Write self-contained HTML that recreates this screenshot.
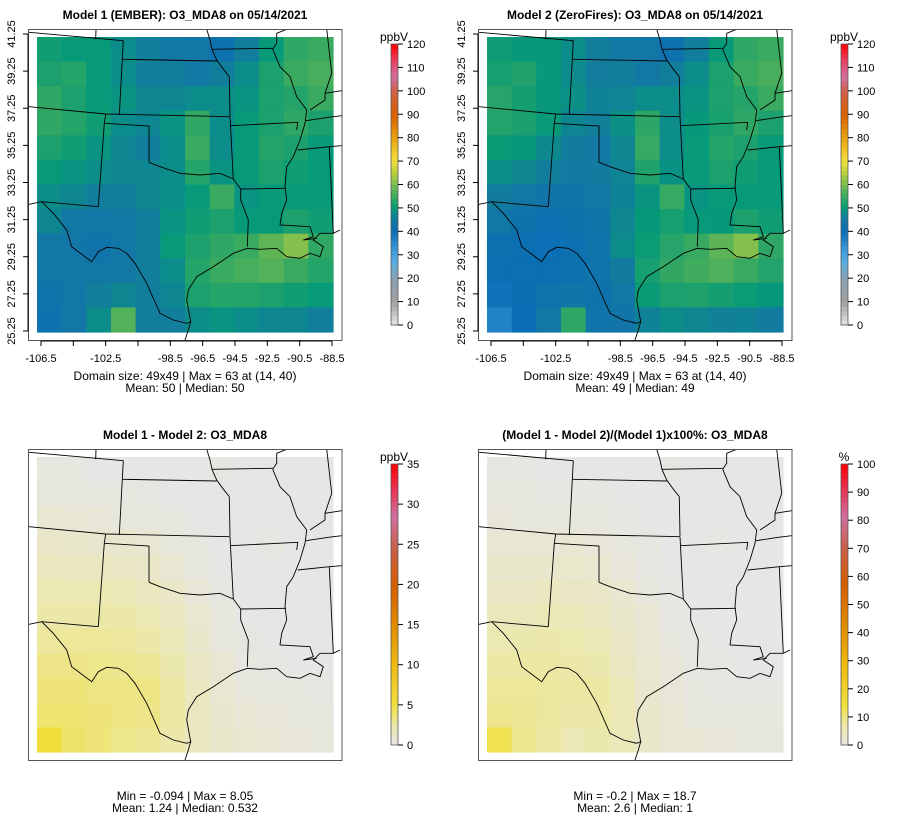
<!DOCTYPE html>
<html><head><meta charset="utf-8"><style>
html,body{margin:0;padding:0;background:#fff;}
svg{display:block;font-family:"Liberation Sans",sans-serif;}
</style></head><body>
<svg id="chart" width="900" height="840" viewBox="0 0 900 840" xmlns="http://www.w3.org/2000/svg"></svg>
<script>
// ===== data (12x12 coarse grid, rows north->south, cols west->east) =====
const model1Values = [
[51,50,50,48,46,45,44,42,46,50,54,55],
[52,53,50,48,46,46,45,46,48,52,55,56],
[54,52,50,49,47,47,48,48,49,52,53,55],
[54,53,51,48,47,49,54,48,50,52,54,52],
[52,51,49,47,46,48,55,48,50,53,52,50],
[50,49,48,47,47,48,53,49,50,52,51,50],
[48,47,46,46,47,48,50,55,49,50,50,50],
[47,45,44,45,46,49,51,52,50,50,52,51],
[45,44,43,44,46,50,52,54,55,58,61,54],
[44,44,44,45,46,48,53,55,56,57,55,53],
[43,44,46,47,46,47,52,53,53,52,51,50],
[42,44,48,57,46,46,48,49,48,47,47,46]];
const diffValues = [
[0.3,0.3,0.1,0,0,0,0,0.2,0,0,0,0],
[0.5,0.4,0.3,0.3,0.2,0.1,0,0,0,0,0,0],
[0.8,0.7,0.6,0.5,0.5,0.3,0.1,0,0,0,0,0],
[1.2,1.1,1,1,0.8,0.5,0.3,0,0.1,0.2,0,0],
[1.6,1.5,1.5,1.4,1.2,0.8,0.4,0.1,0,0,0,0],
[2,2,2,1.9,1.6,1.2,0.6,0.2,0,0,0,0],
[2.4,2.4,2.5,2.4,2,1.5,0.9,0.4,0.1,0,0,0],
[2.8,2.9,2.9,2.8,2.5,1.8,1.1,0.5,0.2,0.1,0,0],
[3.3,3.3,3.2,3.1,3,2.2,1.4,0.8,0.3,0.2,0.1,0.1],
[3.6,3.6,3.4,3.4,3.4,2.6,1.5,0.8,0.5,0.4,0.3,0.2],
[3.9,3.8,3.6,3.4,3.3,2.6,1.6,1,0.7,0.6,0.5,0.4],
[5.5,4,3.6,3.2,3,2.4,1.6,1.1,0.9,0.7,0.6,0.5]];
const model2Values = model1Values.map((r,i)=>r.map((v,j)=>v-diffValues[i][j]));
const pctValues = model1Values.map((r,i)=>r.map((v,j)=>diffValues[i][j]/v*100));
const xTickLabels = ["-106.5","","-102.5","","-98.5","-96.5","-94.5","-92.5","-90.5","-88.5"];
const yTickLabels = ["41.25","39.25","37.25","35.25","33.25","31.25","29.25","27.25","25.25"];
const mainTicks = [0,10,20,30,40,50,60,70,80,90,100,110,120];
const diffTicks = [0,5,10,15,20,25,30,35];
const pctTicks = [0,10,20,30,40,50,60,70,80,90,100];

// ===== colour maps =====
const mainStops=[[0,"#e6e6e6"],[10,"#a0a0a0"],[20,"#8aa0b4"],[27,"#58ace0"],[33,"#3896d8"],[40,"#0a6eb4"],[45,"#1478a4"],[50,"#069a78"],[55,"#3aaa60"],[60,"#78bc50"],[65,"#b8d040"],[70,"#f0e040"],[75,"#f0c424"],[80,"#e8a010"],[90,"#d86000"],[100,"#d06048"],[106,"#d070a0"],[113,"#e84060"],[120,"#ff0000"]];
const diffStops=[[0,"#e6e6e6"],[2.5,"#ece8a8"],[5,"#f0e040"],[10,"#eebb10"],[15,"#e08a00"],[20,"#d45e00"],[25,"#c86050"],[28.5,"#d070a0"],[32,"#e83050"],[35,"#ff0000"]];
const pctStops=diffStops.map(s=>[s[0]*100/35,s[1]]);
function hex(c){return [1,3,5].map(i=>parseInt(c.substr(i,2),16));}
function cmap(stops,v){
  if(v<=stops[0][0])return stops[0][1];
  for(let i=1;i<stops.length;i++){if(v<=stops[i][0]){const a=hex(stops[i-1][1]),b=hex(stops[i][1]);const t=(v-stops[i-1][0])/(stops[i][0]-stops[i-1][0]);return "rgb("+a.map((x,k)=>Math.round(x+(b[k]-x)*t)).join(",")+")";}}
  return stops[stops.length-1][1];
}

// ===== geometry =====
const NS="http://www.w3.org/2000/svg";
const svg=document.getElementById("chart");
function el(tag,attrs,parent,text){const e=document.createElementNS(NS,tag);for(const k in attrs)e.setAttribute(k,attrs[k]);if(text!==undefined)e.textContent=text;(parent||svg).appendChild(e);return e;}
const MAP={x0:37,y0:37,x1:333,y1:332};
const lonX=i=>41+i*(291/9);
const latY=i=>34+i*(297/8);

const borders=[
[[87,97],[370,122]],[[288,87],[287,118]],
[[370,122],[358,345]],[[367,178],[650,183]],
[[620,88],[630,120],[636,148],[650,180],[668,205],[688,230]],
[[636,148],[818,145]],
[[688,230],[690,348]],
[[87,320],[317,342],[690,350]],
[[690,377],[893,367],[890,390]],
[[313,370],[447,378],[447,487]],
[[447,487],[480,500],[540,520],[600,525],[660,520],[700,537]],
[[690,350],[700,537]],
[[722,567],[858,565]],
[[700,537],[722,567],[722,600],[745,660],[742,740]],
[[317,342],[313,370],[295,620]],
[[87,613],[125,605],[295,620]],
[[125,605],[160,640],[200,690],[215,740],[275,785],[295,755],[320,742],[355,745],[380,760],[405,790],[440,850],[480,940],[520,960],[560,970],[572,965],[565,990],[555,1020]],
[[572,965],[560,900],[565,870],[590,830],[640,800],[700,760],[742,745],[780,748],[830,745],[860,770],[900,775],[930,760],[960,770],[970,740],[940,720],[960,700],[1000,700],[1020,690]],
[[818,148],[840,200],[870,230],[890,290],[920,330],[915,370],[900,420],[880,470],[860,500],[855,560],[860,600],[845,640],[840,675],[930,680],[940,710],[910,720],[950,715]],
[[918,362],[985,352],[1025,347]],[[893,450],[988,440],[1025,437]],
[[988,440],[1000,700]],
[[860,88],[830,100],[830,130],[818,148]],
[[980,87],[995,220],[975,280],[1025,272]],
[[930,330],[975,300],[975,280]]
];

function panel(px,py,title,vals,stops,ticks,unit,stats,showAxes,id){
  const g=el("g",{transform:`translate(${px},${py})`,});
  el("text",{x:185,y:19,"text-anchor":"middle","font-size":"12","font-weight":"bold",},g,title);
  const cg=el("g",{},g);
  const nr=vals.length,nc=vals[0].length,cw=(MAP.x1-MAP.x0)/nc,ch=(MAP.y1-MAP.y0)/nr;
  vals.forEach((row,i)=>row.forEach((v,j)=>{
    const r=el("rect",{x:(MAP.x0+j*cw).toFixed(2),y:(MAP.y0+i*ch).toFixed(2),width:(cw+0.6).toFixed(2),height:(ch+0.6).toFixed(2),fill:cmap(stops,v)},cg);
    
    
  }));
  const clip=el("clipPath",{id:"clip"+id},g);el("rect",{x:29,y:29,width:313,height:312},clip);
  const bg=el("g",{"clip-path":`url(#clip${id})`,},g);
  borders.forEach(b=>el("polyline",{points:b.map(p=>(p[0]/3).toFixed(1)+","+(p[1]/3).toFixed(1)).join(" "),fill:"none",stroke:"#000","stroke-width":"0.9"},bg));
  el("rect",{x:28.5,y:29.5,width:313.5,height:311,fill:"none",stroke:"#555","stroke-width":"1",},g);
  if(showAxes){
    const xa=el("g",{},g);
    el("line",{x1:lonX(0),x2:lonX(9),y1:341,y2:341,stroke:"#000"},xa);
    xTickLabels.forEach((t,i)=>{el("line",{x1:lonX(i),x2:lonX(i),y1:341,y2:346,stroke:"#000"},xa);if(t)el("text",{x:lonX(i),y:362,"text-anchor":"middle","font-size":"11"},xa,t);});
    const ya=el("g",{},g);
    el("line",{x1:28,x2:28,y1:latY(0),y2:latY(8),stroke:"#000"},ya);
    yTickLabels.forEach((t,i)=>{const y=latY(i);el("line",{x1:23,x2:28,y1:y,y2:y,stroke:"#000"},ya);el("text",{x:15,y:y,"text-anchor":"middle","font-size":"11",transform:`rotate(-90 15 ${y})`},ya,t);});
  }
  el("text",{x:185,y:380,"text-anchor":"middle","font-size":"12",},g,stats[0]);
  el("text",{x:185,y:392,"text-anchor":"middle","font-size":"12",},g,stats[1]);
  const cb=el("g",{},g);
  const top=44,bot=325,max=ticks[ticks.length-1],n=60;
  for(let k=0;k<n;k++){const v0=max*k/n;const y=bot-(k+1)*(bot-top)/n;el("rect",{x:391,y:y.toFixed(2),width:7,height:((bot-top)/n+0.5).toFixed(2),fill:cmap(stops,v0+max/n/2)},cb);}
  el("rect",{x:391,y:top,width:7,height:bot-top,fill:"none",stroke:"#555","stroke-width":"0.8"},cb);
  ticks.forEach(t=>{const y=bot-(t/max)*(bot-top);el("line",{x1:398,x2:403,y1:y,y2:y,stroke:"#000"},cb);el("text",{x:407,y:y+4,"font-size":"11"},cb,String(t));});
  el("text",{x:394,y:41,"text-anchor":"middle","font-size":"12",},cb,unit);
}
panel(0,0,"Model 1 (EMBER): O3_MDA8 on 05/14/2021",model1Values,mainStops,mainTicks,"ppbV",["Domain size: 49x49 | Max = 63 at (14, 40)","Mean: 50 |  Median: 50"],true,"model1");
panel(450,0,"Model 2 (ZeroFires): O3_MDA8 on 05/14/2021",model2Values,mainStops,mainTicks,"ppbV",["Domain size: 49x49 | Max = 63 at (14, 40)","Mean: 49 |  Median: 49"],true,"model2");
panel(0,420,"Model 1 - Model 2: O3_MDA8",diffValues,diffStops,diffTicks,"ppbV",["Min = -0.094 | Max = 8.05","Mean: 1.24 |  Median: 0.532"],false,"diff");
panel(450,420,"(Model 1 - Model 2)/(Model 1)x100%: O3_MDA8",pctValues,pctStops,pctTicks,"%",["Min = -0.2 | Max = 18.7","Mean: 2.6 |  Median: 1"],false,"pct");
</script>
</body></html>
